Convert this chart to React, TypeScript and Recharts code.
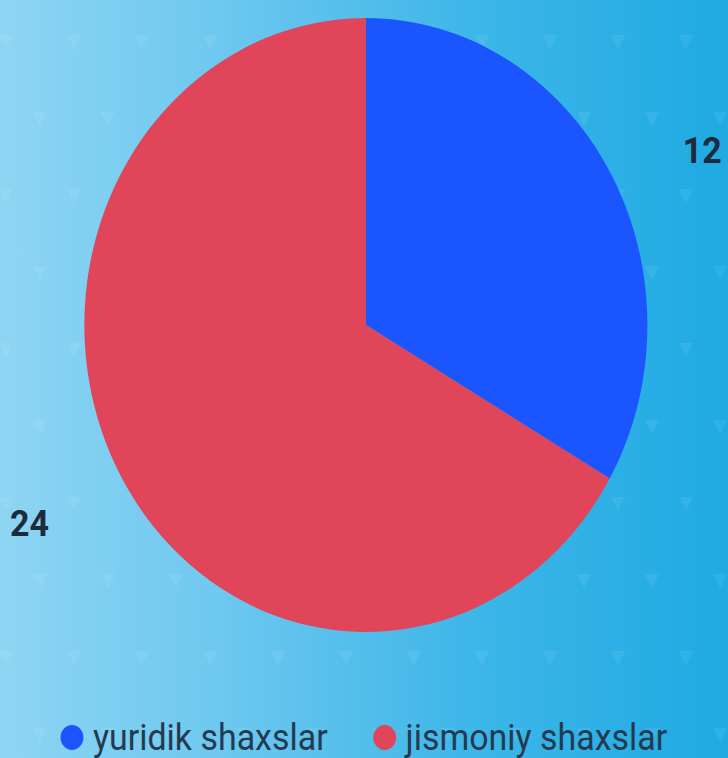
import { Cell, Legend, Pie, PieChart } from "recharts";

const categories = ["yuridik shaxslar", "jismoniy shaxslar"];
const counts = [12, 24];
const sliceColors = ["#1a55fe", "#e0455a"];

const data = categories.map((name, i) => ({ name, value: counts[i] }));

// the reference is a bit squeezed horizontally, so the chart is drawn wider and scaled back
const SQUEEZE = 0.917;
const W = 794;
const H = 758;

const triangles =
  "url(\"data:image/svg+xml;utf8," +
  encodeURIComponent(
    "<svg xmlns='http://www.w3.org/2000/svg' width='68' height='154'>" +
      "<path d='M10 31 L24 31 L17 45 Z' fill='white' fill-opacity='0.07'/>" +
      "<path d='M44 108 L58 108 L51 122 Z' fill='white' fill-opacity='0.07'/>" +
      "</svg>"
  ) +
  "\")";

function renderLabel(props: any) {
  const { cx, cy, midAngle, outerRadius, value } = props;
  const rad = (midAngle * Math.PI) / 180;
  const x = cx + (outerRadius + 92) * Math.cos(rad);
  const y = cy - (outerRadius + 66) * Math.sin(rad) + 12;
  return (
    <text
      x={x}
      y={y}
      fill="#1d2b3a"
      fontSize={37}
      fontWeight={700}
      fontFamily="Roboto"
      textAnchor={x > cx ? "start" : "end"}
      dominantBaseline="central"
    >
      {value}
    </text>
  );
}

// legend keeps the data order (recharts would sort it by name)
function renderLegend() {
  return (
    <div
      style={{
        display: "flex",
        justifyContent: "center",
        gap: 50,
        fontFamily: "Roboto",
        fontSize: 37,
        lineHeight: "37px",
        color: "#233a50",
      }}
    >
      {data.map((d, i) => (
        <div key={d.name} style={{ display: "flex", alignItems: "center" }}>
          <span
            style={{
              display: "inline-block",
              width: 25,
              height: 25,
              borderRadius: "50%",
              background: sliceColors[i],
              marginRight: 10,
            }}
          />
          <span>{d.name}</span>
        </div>
      ))}
    </div>
  );
}

export default function App() {
  return (
    <div
      style={{
        position: "fixed",
        left: 0,
        top: 0,
        width: 728,
        height: 758,
        overflow: "hidden",
        backgroundColor: "#4dbdea",
        backgroundImage: `${triangles}, linear-gradient(90deg, #8ed5f3 0%, #6ec8ef 30%, #3db6e8 65%, #1faae2 100%)`,
        backgroundPosition: "-11px 4px, 0 0",
      }}
    >
      <div style={{ width: W, height: H, transform: `scaleX(${SQUEEZE})`, transformOrigin: "0 0" }}>
        <PieChart width={W} height={H} margin={{ top: 0, right: 0, bottom: 0, left: 0 }}>
          <Pie
            data={data}
            dataKey="value"
            nameKey="name"
            cx={399}
            cy={325}
            outerRadius={307}
            startAngle={90}
            endAngle={-270}
            stroke="none"
            label={renderLabel}
            labelLine={false}
            isAnimationActive={false}
          >
            {data.map((d, i) => (
              <Cell key={d.name} fill={sliceColors[i]} />
            ))}
          </Pie>
          <Legend
            verticalAlign="bottom"
            content={renderLegend}
            wrapperStyle={{ bottom: 2, left: 0, width: W }}
          />
        </PieChart>
      </div>
    </div>
  );
}
